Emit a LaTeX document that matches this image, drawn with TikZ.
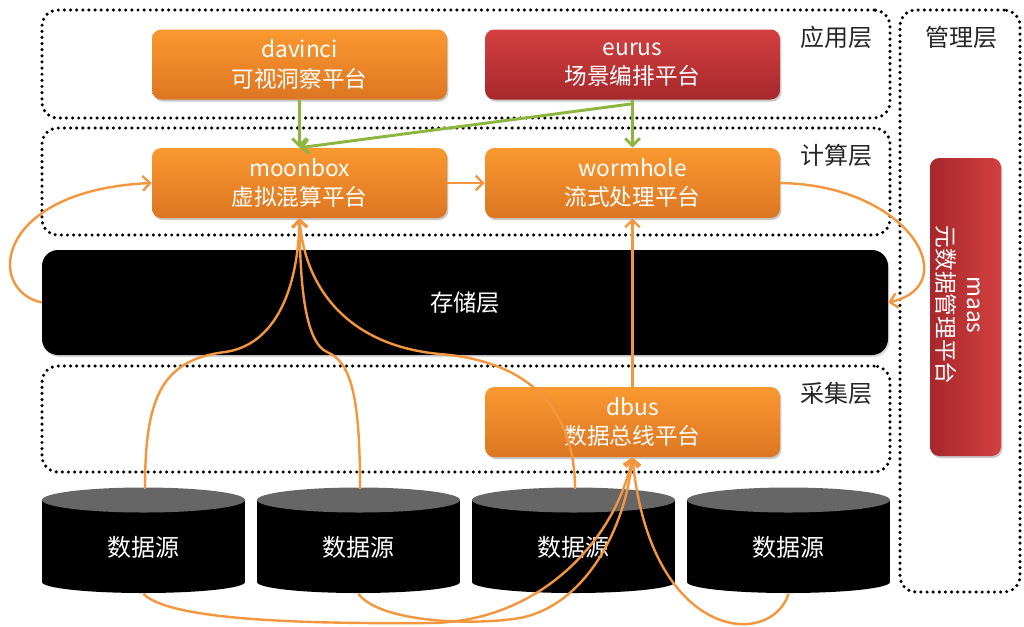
\documentclass[tikz,border=0pt]{standalone}
\usepackage{fontspec}
\newfontfamily\cjk{Noto Sans CJK SC}
\usetikzlibrary{arrows.meta,shadows,calc}
\definecolor{or1}{RGB}{250,152,48}
\definecolor{or2}{RGB}{220,118,34}
\definecolor{rd1}{RGB}{212,64,64}
\definecolor{rd2}{RGB}{166,40,44}
\definecolor{lnor}{RGB}{243,150,62}
\definecolor{lngr}{RGB}{141,182,62}
\definecolor{cyltop}{RGB}{102,102,102}
\begin{document}
\begin{tikzpicture}[x=0.75pt,y=-0.75pt,
  every node/.style={font=\cjk},
  frame/.style={draw=black, line width=2.6pt, dash pattern=on 0pt off 4.6pt, line cap=round, rounded corners=12pt, inner sep=0pt},
  platbox/.style={rounded corners=7pt, minimum width=221.25pt, minimum height=52.5pt, inner sep=0pt, text=white, align=center,
     font=\cjk\fontsize{17}{22}\selectfont,
     drop shadow={shadow xshift=1pt, shadow yshift=-1.5pt, opacity=0.3, fill=black!70}},
  orangebox/.style={platbox, top color=or1, bottom color=or2},
  redbox/.style={platbox, top color=rd1, bottom color=rd2},
  layerlabel/.style={text=black!85, font=\cjk\fontsize{18}{20}\selectfont},
  dstext/.style={text=white, font=\cjk\fontsize{18}{20}\selectfont},
  oline/.style={draw=lnor, line width=1.8pt, -{Straight Barb[length=5.5pt,width=11pt,line width=1.8pt]}},
  gline/.style={draw=lngr, line width=2.2pt, -{Straight Barb[length=5.5pt,width=11pt,line width=2.2pt]}}
]
\useasboundingbox (0,0) rectangle (1024,626);
\fill[white] (0,0) rectangle (1024,626);

% dotted layer frames
\node[frame, minimum width=636pt, minimum height=81pt] (fapp) at (466,64) {};
\node[frame, minimum width=636pt, minimum height=80.25pt] (fcomp) at (466,181.5) {};
\node[frame, minimum width=636pt, minimum height=79.5pt] (fcoll) at (466,419) {};
\node[frame, minimum width=90pt, minimum height=436.5pt] (fmgmt) at (960,301) {};

\node[layerlabel] (lapp) at (836,37) {应用层};
\node[layerlabel] (lcomp) at (836,155) {计算层};
\node[layerlabel] (lcoll) at (836,393) {采集层};
\node[layerlabel] (lmgmt) at (961,37) {管理层};

% storage layer
\node[fill=black, rounded corners=12pt, minimum width=634.5pt, minimum height=78.75pt, inner sep=0pt,
      text=white, font=\cjk\fontsize{17.5}{20}\selectfont,
      drop shadow={shadow xshift=1pt, shadow yshift=-1.5pt, opacity=0.25, fill=black!60}] (storage) at (465,302.5) {存储层};

% data sources (cylinders)
\foreach \i/\cx in {1/143.5,2/358.5,3/573.5,4/788.5}{
  \fill[black] (\cx-101.5,500) rectangle (\cx+101.5,582);
  \fill[black] (\cx,582) ellipse[x radius=101.5, y radius=11];
  \fill[cyltop] (\cx,500) ellipse[x radius=101.5, y radius=12.5];
  \node[dstext] (ds\i) at (\cx,547) {数据源};
  \coordinate (dt\i) at (\cx+1.5,489);
  \coordinate (db\i) at (\cx,594);
}

% platform boxes
\node[orangebox] (davinci) at (299.5,64.5) {davinci\\可视洞察平台};
\node[redbox] (eurus) at (632.5,64.5) {eurus\\场景编排平台};
\node[orangebox] (moonbox) at (299.5,183) {moonbox\\虚拟混算平台};
\node[orangebox] (wormhole) at (632.5,183) {wormhole\\流式处理平台};
\node[orangebox] (dbus) at (632.5,422) {dbus\\数据总线平台};
\node[rounded corners=7pt, minimum width=53.25pt, minimum height=223.5pt, inner sep=0pt,
      left color=rd2, right color=rd1,
      drop shadow={shadow xshift=1pt, shadow yshift=-1.5pt, opacity=0.3, fill=black!70}] (maas) at (965.5,307) {};
\node[rotate=-90, text=white, align=center, font=\cjk\fontsize{17}{22}\selectfont] (maastext) at (958,305) {maas\\元数据管理平台};

% green connectors
\draw[gline] (davinci.south) -- (moonbox.north);
\draw[gline] (eurus.south) -- (wormhole.north);
\draw[gline] ($(eurus.south)+(0,4)$) -- (moonbox.north);

% orange connectors
\draw[oline] (moonbox.east) -- (wormhole.west);
\draw[oline] (dbus.north) -- (wormhole.south);
\draw[oline] (storage.west) .. controls (-15,290) and (-5,190) .. (moonbox.west);
\draw[oline] (wormhole.east) .. controls (910,185) and (965,285) .. (storage.east);

\draw[oline] (dt1) .. controls (145,400) and (160,360) .. (225,352) .. controls (275,345) and (298,290) .. (moonbox.south);
\draw[oline] (dt2) .. controls (360,400) and (352,362) .. (327,352) .. controls (305,342) and (300,285) .. (moonbox.south);
\draw[oline] (dt3) .. controls (575,420) and (540,362) .. (440,354) .. controls (350,346) and (305,290) .. (moonbox.south);

\draw[oline] (db1) .. controls (170,620) and (300,624) .. (430,623) .. controls (540,622) and (615,540) .. (dbus.south);
\draw[oline] (db2) .. controls (380,622) and (470,626) .. (520,618) .. controls (585,605) and (625,530) .. (dbus.south);
\draw[oline] (db4) .. controls (770,650) and (650,640) .. (dbus.south);
\end{tikzpicture}
\end{document}
